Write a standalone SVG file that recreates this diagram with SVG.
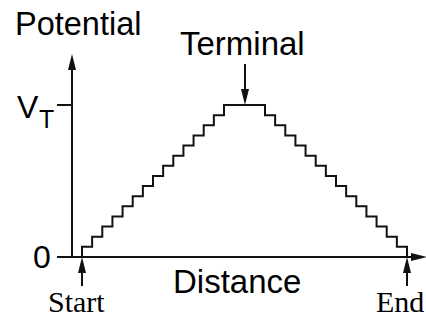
<svg xmlns="http://www.w3.org/2000/svg" width="426" height="320" viewBox="0 0 426 320">
<style>
.ln{stroke:#111;stroke-width:2;fill:none}
.ar{stroke:#111;stroke-width:2;fill:none;marker-end:url(#ah)}
.sans{font-family:"Liberation Sans",Arial,sans-serif;fill:#000}
.serif{font-family:"Liberation Serif","Times New Roman",serif;fill:#000}
</style>
<defs>
<marker id="ah" markerUnits="userSpaceOnUse" markerWidth="18" markerHeight="10" refX="0" refY="4" orient="auto" viewBox="0 0 18 10" overflow="visible">
<path d="M0,0 L16,4 L0,8 z" fill="#111"/>
</marker>
</defs>
<rect width="426" height="320" fill="#fff"/>
<g id="axes">
<line class="ar" x1="72" y1="258" x2="72" y2="70"/>
<line class="ar" x1="57" y1="257" x2="411" y2="257"/>
<line class="ln" x1="57" y1="105" x2="72" y2="105"/>
</g>
<g id="staircase">
<path class="ln" d="M82,257 V246.87 H92.14 V236.73 H102.29 V226.6 H112.43 V216.47 H122.57 V206.33 H132.71 V196.2 H142.86 V186.07 H153 V175.93 H163.14 V165.8 H173.29 V155.67 H183.43 V145.53 H193.57 V135.4 H203.71 V125.27 H213.86 V115.13 H224 V105 H265 V115.13 H275.14 V125.27 H285.29 V135.4 H295.43 V145.53 H305.57 V155.67 H315.71 V165.8 H325.86 V175.93 H336 V186.07 H346.14 V196.2 H356.29 V206.33 H366.43 V216.47 H376.57 V226.6 H386.71 V236.73 H396.86 V246.87 H407 V257"/>
</g>
<g id="connectors">
<line class="ar" x1="245" y1="64" x2="245" y2="89"/>
<line class="ar" x1="82" y1="286" x2="82" y2="273"/>
<line class="ar" x1="407" y1="286" x2="407" y2="273"/>
</g>
<g id="labels">
<text class="sans" x="15" y="35" font-size="32.5">Potential</text>
<text class="sans" x="180" y="55" font-size="33">Terminal</text>
<text class="sans" x="17" y="118" font-size="32">V</text>
<text class="sans" x="39" y="128" font-size="25">T</text>
<text class="sans" x="33" y="268" font-size="32">0</text>
<text class="sans" x="173" y="293" font-size="33">Distance</text>
<text class="serif" x="48" y="312" font-size="30">Start</text>
<text class="serif" x="376" y="312" font-size="30">End</text>
</g>
</svg>
